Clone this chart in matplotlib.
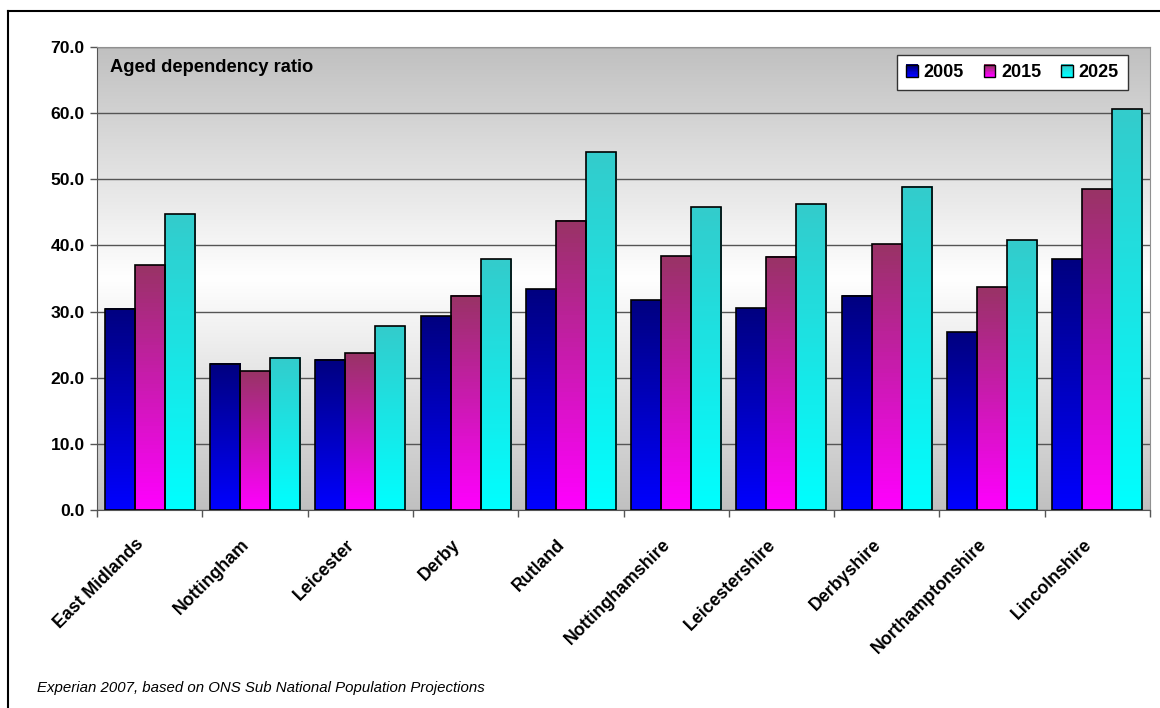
import numpy as np
import matplotlib.pyplot as plt
from matplotlib.colors import to_rgb
from matplotlib.patches import Rectangle
from matplotlib.lines import Line2D
from matplotlib.legend_handler import HandlerBase

plt.rcParams['font.family'] = ['Liberation Sans', 'DejaVu Sans']

# data
areas = ['East Midlands', 'Nottingham', 'Leicester', 'Derby', 'Rutland',
         'Nottinghamshire', 'Leicestershire', 'Derbyshire', 'Northamptonshire',
         'Lincolnshire']
years = ['2005', '2015', '2025']
r2005 = [30.4, 22.1, 22.7, 29.3, 33.4, 31.7, 30.5, 32.4, 26.9, 37.9]
r2015 = [37.0, 21.0, 23.7, 32.4, 43.7, 38.4, 38.3, 40.2, 33.7, 48.5]
r2025 = [44.7, 23.0, 27.8, 37.9, 54.1, 45.8, 46.2, 48.9, 40.8, 60.6]
yticks = [0, 10, 20, 30, 40, 50, 60, 70]

# bar colours: top of bar -> bottom of bar
tops = ['#000080', '#993366', '#33cccc']
bottoms = ['#0000ff', '#ff00ff', '#00ffff']


def grad(top, bottom, n=64):
    c0 = np.array(to_rgb(bottom))
    c1 = np.array(to_rgb(top))
    t = np.linspace(0, 1, n)[:, None]
    return (c0 * (1 - t) + c1 * t)[:, None, :]


class GradHandler(HandlerBase):
    def __init__(self, top, bottom):
        super().__init__()
        self.top = top
        self.bottom = bottom

    def create_artists(self, legend, orig_handle, xdescent, ydescent,
                       width, height, fontsize, trans):
        n = 8
        g = grad(self.top, self.bottom, n)
        arts = []
        for i in range(n):
            arts.append(Rectangle((-xdescent, -ydescent + i * height / n),
                                  width, height / n + 0.2, facecolor=g[i, 0],
                                  edgecolor='none', transform=trans))
        arts.append(Rectangle((-xdescent, -ydescent), width, height,
                              facecolor='none', edgecolor='black', lw=1.0,
                              transform=trans))
        return arts


fig = plt.figure(figsize=(11.6, 7.08), dpi=100)
ax = fig.add_axes([97 / 1160, 1 - 510 / 708, 1053 / 1160, 463 / 708])

# background: grey -> white -> grey
t = np.linspace(0, 1, 256)
v = 0.753 + (1 - 0.753) * (1 - np.abs(t - 0.5) * 2)
bg = np.stack([v, v, v], axis=-1)[:, None, :]
ax.imshow(bg, extent=(0, 1, 0, 1), transform=ax.transAxes, aspect='auto',
          origin='lower', zorder=0)

x = np.arange(len(areas))
w = 0.285
series = [r2005, r2015, r2025]
for i, vals in enumerate(series):
    xs = x + (i - 1) * w
    for xi, h in zip(xs, vals):
        ax.imshow(grad(tops[i], bottoms[i]), extent=(xi - w / 2, xi + w / 2, 0, h),
                  aspect='auto', origin='lower', zorder=2)
    ax.bar(xs, vals, width=w, facecolor='none', edgecolor='black', lw=1.2,
           zorder=3)

ax.set_xlim(-0.5, len(areas) - 0.5)
ax.set_ylim(0, 70)
ax.set_yticks(yticks)
ax.set_yticklabels(['%.1f' % y for y in yticks], fontsize=12.6,
                   fontweight='bold')
ax.yaxis.grid(True, color='#555555', lw=1.0)
ax.set_axisbelow(True)
ax.tick_params(axis='y', length=5, width=1, color='#555555', pad=4)

ax.set_xticks(np.arange(len(areas) + 1) - 0.5)
ax.set_xticklabels([])
ax.tick_params(axis='x', which='major', length=5, width=1, color='#555555')
# labels sit slightly left of the group centre, as in the original
ax.set_xticks(x - 0.08, minor=True)
ax.set_xticklabels(areas, minor=True, rotation=45, ha='right',
                   rotation_mode='anchor', va='center', fontsize=12.8,
                   fontweight='bold')
ax.tick_params(axis='x', which='minor', length=0, pad=23)

for s in ['top', 'right']:
    ax.spines[s].set_color('#909090')
for s in ['left', 'bottom']:
    ax.spines[s].set_color('#555555')

ax.text(0.012, 0.955, 'Aged dependency ratio', transform=ax.transAxes,
        fontsize=13.2, fontweight='bold', va='center', ha='left', zorder=5)

proxies = [Rectangle((0, 0), 1, 1) for _ in years]
hmap = {p: GradHandler(tops[i], bottoms[i]) for i, p in enumerate(proxies)}
leg = ax.legend(proxies, years, handler_map=hmap, ncol=3, loc='upper right',
                bbox_to_anchor=(0.979, 0.983), borderaxespad=0,
                prop={'size': 13, 'weight': 'bold'}, fancybox=False,
                framealpha=1, edgecolor='#333333', handlelength=0.64,
                handleheight=0.64, handletextpad=0.33, columnspacing=1.1,
                borderpad=0.5)
leg.get_frame().set_linewidth(1.0)
leg.set_zorder(6)

fig.text(37 / 1160, 1 - 688 / 708,
         'Experian 2007, based on ONS Sub National Population Projections',
         fontsize=10.8, style='italic', va='center', ha='left')

# outer frame (top and left edges visible)
fig.add_artist(Line2D([8 / 1160, 8 / 1160], [0, 1 - 11 / 708], color='black',
                      lw=1.5, transform=fig.transFigure))
fig.add_artist(Line2D([8 / 1160, 1], [1 - 11 / 708, 1 - 11 / 708],
                      color='black', lw=1.5, transform=fig.transFigure))

fig.savefig('out.png', dpi=100)
